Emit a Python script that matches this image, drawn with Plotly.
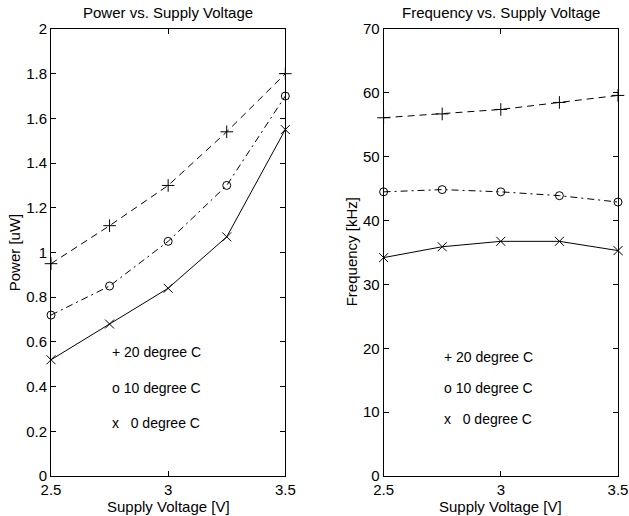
import plotly.graph_objects as go

# ---- data ----
voltage = [2.5, 2.75, 3.0, 3.25, 3.5]

power_20C = [0.95, 1.12, 1.30, 1.54, 1.80]
power_10C = [0.72, 0.85, 1.05, 1.30, 1.70]
power_0C = [0.52, 0.68, 0.84, 1.07, 1.55]

freq_20C = [56.1, 56.7, 57.4, 58.5, 59.6]
freq_10C = [44.5, 44.85, 44.5, 43.9, 42.9]
freq_0C = [34.2, 35.9, 36.75, 36.75, 35.3]

x_ticks = [2.5, 3, 3.5]
x_ticktext = ["2.5", "3", "3.5"]
power_ticks = [0, 0.2, 0.4, 0.6, 0.8, 1, 1.2, 1.4, 1.6, 1.8, 2]
power_ticktext = ["0", "0.2", "0.4", "0.6", "0.8", "1", "1.2", "1.4", "1.6", "1.8", "2"]
freq_ticks = [0, 10, 20, 30, 40, 50, 60, 70]

legend_labels = ["+ 20 degree C", "o 10 degree C", "x\u00a0\u00a0\u00a00 degree C"]
legend_x = 2.75
legend_y_power = [0.555, 0.395, 0.235]
legend_y_freq = [18.7, 13.8, 8.85]

FONT = "Liberation Sans, Arial, Helvetica, sans-serif"
BLACK = "#000000"

W, H = 629, 516
ML, MR, MT, MB = 50.7, W - 617.7, 29.3, H - 475.7
PW, PH = W - ML - MR, H - MT - MB


def px(x):
    return (x - ML) / PW


def py(y):
    return 1 - (y - MT) / PH


fig = go.Figure()

styles = [
    ("cross-thin-open", "7px,5px", 9),
    ("circle-open", "7px,4px,2px,4px", 8),
    ("x-thin-open", "solid", 9),
]

for series, (sym, dash, msize) in zip([power_20C, power_10C, power_0C], styles):
    fig.add_trace(go.Scatter(
        x=voltage, y=series, mode="lines+markers",
        line=dict(color=BLACK, width=1, dash=dash),
        marker=dict(symbol=sym, size=msize, color=BLACK, line=dict(color=BLACK, width=1)),
        cliponaxis=False, showlegend=False, xaxis="x", yaxis="y",
    ))

for series, (sym, dash, msize) in zip([freq_20C, freq_10C, freq_0C], styles):
    fig.add_trace(go.Scatter(
        x=voltage, y=series, mode="lines+markers",
        line=dict(color=BLACK, width=1, dash=dash),
        marker=dict(symbol=sym, size=msize, color=BLACK, line=dict(color=BLACK, width=1)),
        cliponaxis=False, showlegend=False, xaxis="x2", yaxis="y2",
    ))

axis_common = dict(
    showgrid=False, zeroline=False, showline=True, linecolor=BLACK, linewidth=1,
    mirror="ticks", ticks="inside", ticklen=5, tickcolor=BLACK, tickwidth=1,
    tickfont=dict(family=FONT, size=15, color=BLACK), automargin=False,
)

dom_x1 = [px(50.7), px(285.0)]
dom_x2 = [px(383.3), px(617.7)]

fig.update_layout(
    template="none",
    width=W, height=H,
    margin=dict(l=ML, r=MR, t=MT, b=MB, pad=0),
    paper_bgcolor="white", plot_bgcolor="white",
    font=dict(family=FONT, color=BLACK),
    xaxis=dict(domain=dom_x1, range=[2.5, 3.5], tickvals=x_ticks, ticktext=x_ticktext,
               anchor="y", **axis_common),
    yaxis=dict(domain=[0, 1], range=[0, 2], tickvals=power_ticks, ticktext=power_ticktext,
               anchor="x", **axis_common),
    xaxis2=dict(domain=dom_x2, range=[2.5, 3.5], tickvals=x_ticks, ticktext=x_ticktext,
                anchor="y2", **axis_common),
    yaxis2=dict(domain=[0, 1], range=[0, 70], tickvals=freq_ticks,
                anchor="x2", **axis_common),
)

ann = []
common_txt = dict(xref="paper", yref="paper", showarrow=False, xanchor="center",
                  yanchor="middle", font=dict(size=15, family=FONT))
# titles
ann.append(dict(text="Power vs. Supply Voltage", x=px((50.7 + 285) / 2), y=py(13), **common_txt))
ann.append(dict(text="Frequency vs. Supply Voltage", x=px((383.3 + 617.7) / 2), y=py(13), **common_txt))
# x axis titles
for cx in ((50.7 + 285) / 2, (383.3 + 617.7) / 2):
    ann.append(dict(text="Supply Voltage [V]", x=px(cx), y=py(506), **common_txt))
# y axis titles
ann.append(dict(text="Power [uW]", x=px(15), y=py(252), textangle=-90, **common_txt))
ann.append(dict(text="Frequency [kHz]", x=px(352), y=py(252), textangle=-90, **common_txt))
# in-plot legends
for lab, yy in zip(legend_labels, legend_y_power):
    ann.append(dict(text=lab, x=legend_x, y=yy, xref="x", yref="y", xanchor="left",
                    yanchor="middle", showarrow=False, font=dict(size=14, family=FONT)))
for lab, yy in zip(legend_labels, legend_y_freq):
    ann.append(dict(text=lab, x=legend_x, y=yy, xref="x2", yref="y2", xanchor="left",
                    yanchor="middle", showarrow=False, font=dict(size=14, family=FONT)))

fig.update_layout(annotations=ann)

fig.write_html(
    "out.html",
    config={"displayModeBar": False, "staticPlot": True},
    post_script="document.body.style.margin='0px';document.body.style.overflow='hidden';",
)
